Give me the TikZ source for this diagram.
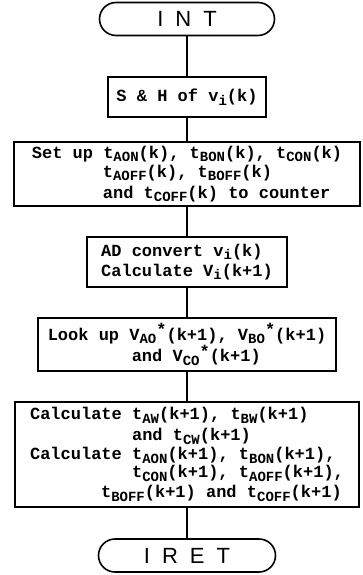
\documentclass[tikz,border=0pt]{standalone}
\usepackage{fontspec}
\setmonofont{Liberation Mono}
\setsansfont{Liberation Sans}
\usetikzlibrary{shapes.misc}

\newcommand{\lowtx}[1]{\raisebox{-3.5pt}{\fontsize{14}{14}\selectfont #1}}
\newcommand{\hightx}[1]{\raisebox{4.5pt}{#1}}

\begin{document}
\begin{tikzpicture}[x=1pt, y=1pt,
    every node/.style={font=\ttfamily\bfseries\fontsize{17}{18}\selectfont},
    box/.style={draw, line width=1.8pt, inner sep=0pt, align=left},
    term/.style={draw, rounded rectangle, line width=1.6pt, inner sep=0pt,
      minimum height=33pt, font=\sffamily\fontsize{22}{22}\selectfont}]
  \useasboundingbox (0,0) rectangle (362,-575);

  \node[term, minimum width=175pt] (int) at (187,-19) {I\hspace{12pt}N\hspace{12pt}T};
  \node[box, minimum width=158pt, minimum height=40pt] (sh) at (187,-97) {S \& H of v\lowtx{i}(k)};
  \node[box, minimum width=346pt, minimum height=64pt] (setup) at (187,-174)
    {Set up t\lowtx{AON}(k), t\lowtx{BON}(k), t\lowtx{CON}(k)\\[1pt]
     \hspace*{71pt}t\lowtx{AOFF}(k), t\lowtx{BOFF}(k)\\[3pt]
     \hspace*{71pt}and t\lowtx{COFF}(k) to counter};
  \node[box, minimum width=200pt, minimum height=50pt] (ad) at (187,-262)
    {AD convert v\lowtx{i}(k)\\[2pt]Calculate V\lowtx{i}(k+1)};
  \node[box, minimum width=298pt, minimum height=53pt] (look) at (187,-344.5)
    {Look up V\lowtx{AO}\hightx{*}(k+1), V\lowtx{BO}\hightx{*}(k+1)\\
     \hspace*{84pt}and V\lowtx{CO}\hightx{*}(k+1)};
  \node[box, minimum width=344pt, minimum height=105pt] (calc) at (187,-454.5)
    {Calculate t\lowtx{AW}(k+1), t\lowtx{BW}(k+1)\\[3pt]
     \hspace*{102pt}and t\lowtx{CW}(k+1)\\[1pt]
     Calculate t\lowtx{AON}(k+1), t\lowtx{BON}(k+1),\\
     \hspace*{102pt}t\lowtx{CON}(k+1), t\lowtx{AOFF}(k+1),\\[2pt]
     \hspace*{71pt}t\lowtx{BOFF}(k+1) and t\lowtx{COFF}(k+1)};
  \node[term, minimum width=177pt] (iret) at (187,-555.5) {I\hspace{12pt}R\hspace{12pt}E\hspace{12pt}T};

  \draw[line width=1.6pt] (int.south) -- (sh.north);
  \draw[line width=1.6pt] (sh.south) -- (setup.north);
  \draw[line width=1.6pt] (setup.south) -- (ad.north);
  \draw[line width=1.6pt] (ad.south) -- (look.north);
  \draw[line width=1.6pt] (look.south) -- (calc.north);
  \draw[line width=1.6pt] (calc.south) -- (iret.north);
\end{tikzpicture}
\end{document}
